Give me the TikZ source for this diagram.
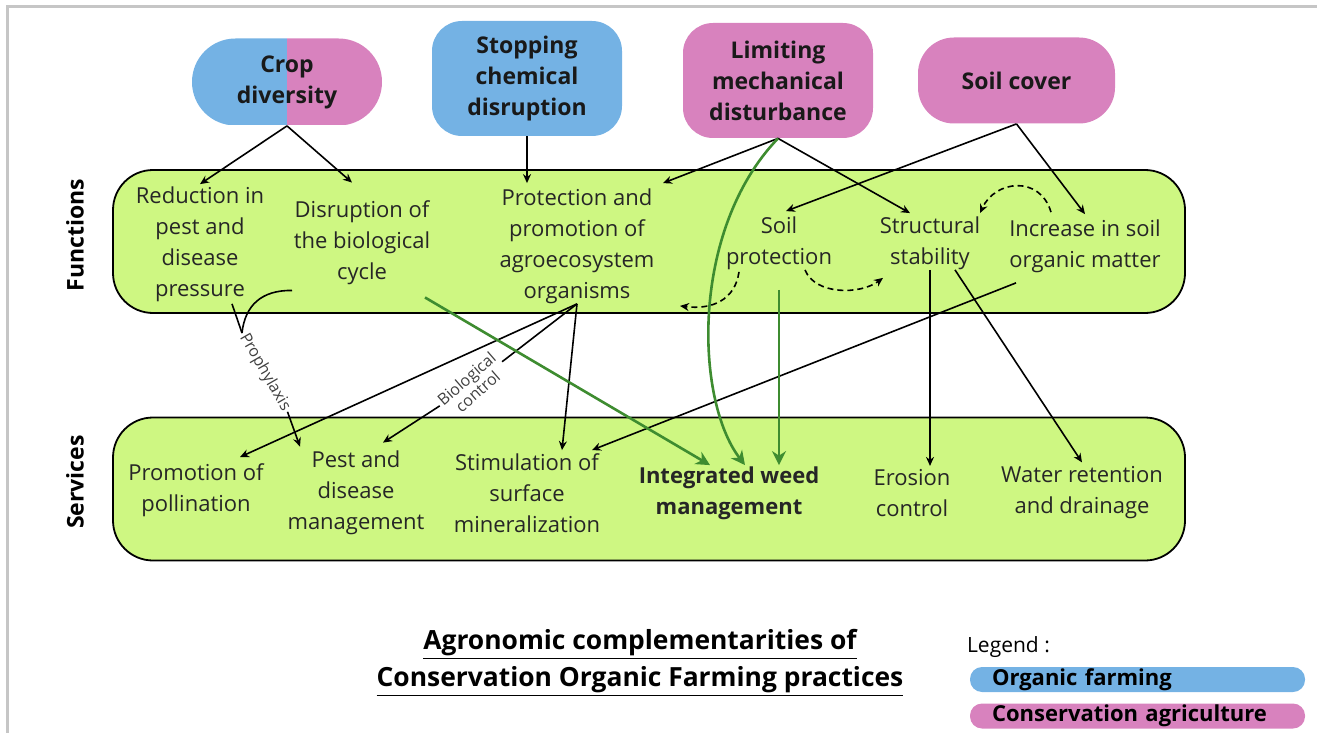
\documentclass[tikz,border=0pt]{standalone}
\usepackage{fontspec}
\setmainfont{Open Sans}
\usetikzlibrary{arrows.meta}
\definecolor{ofblue}{RGB}{116,178,228}
\definecolor{capink}{RGB}{216,130,190}
\definecolor{bandgreen}{RGB}{206,247,130}
\definecolor{weedgreen}{RGB}{62,140,48}

\begin{document}
\begin{tikzpicture}[x=0.5pt,y=-0.5pt,
  practice/.style={align=center,inner sep=0pt,text=black!90,
    font=\fontsize{11.5}{15.5}\selectfont\bfseries},
  band/.style={draw,fill=bandgreen,line width=0.9pt,rounded corners=20pt,
    minimum width=536pt,minimum height=71.5pt},
  fntext/.style={align=center,inner sep=0pt,text=black!85,
    font=\fontsize{11}{15.5}\selectfont},
  sidelab/.style={rotate=90,font=\fontsize{11.5}{14}\selectfont\bfseries},
  edgelab/.style={align=center,inner sep=1pt,text=black!75,
    font=\fontsize{8}{8.5}\selectfont},
  legpill/.style={rounded corners=6pt,minimum height=12.5pt,inner ysep=0pt,
    inner xsep=11pt,text width=145.5pt,align=left,
    font=\fontsize{11}{12}\selectfont\bfseries},
  arr/.style={-{Stealth[length=4.5pt,width=4pt]},line width=0.8pt},
  garr/.style={-{Stealth[length=7pt,width=7pt]},line width=1.3pt,draw=weedgreen},
  dsh/.style={arr,dash pattern=on 3pt off 2pt}]
\useasboundingbox (0,0) rectangle (1317,733);
\draw[gray!45,line width=1.5pt] (7,733) -- (7,7) -- (1317,7);

% practices
\node[practice,minimum width=95pt,minimum height=43.5pt,rounded corners=21.7pt,
  path picture={
    \fill[ofblue,sharp corners] (path picture bounding box.south west) rectangle (path picture bounding box.north);
    \fill[capink,sharp corners] (path picture bounding box.north) rectangle (path picture bounding box.south east);}]
  (crop) at (287,82) {Crop\\diversity};
\node[practice,fill=ofblue,minimum width=95pt,minimum height=57.5pt,rounded corners=15pt]
  (stop) at (527,78.5) {Stopping\\chemical\\disruption};
\node[practice,fill=capink,minimum width=95pt,minimum height=57.5pt,rounded corners=15pt]
  (lim) at (778,80.5) {Limiting\\mechanical\\disturbance};
\node[practice,fill=capink,minimum width=98.5pt,minimum height=43pt,rounded corners=18pt]
  (soil) at (1016.5,80.5) {Soil cover};

% bands
\node[band] (fnband) at (649,241.5) {};
\node[band] (svband) at (649,489) {};
\node[sidelab] (fnlab) at (75,235) {Functions};
\node[sidelab] (svlab) at (75,482) {Services};

% functions
\node[fntext] (red) at (200,244) {Reduction in\\pest and\\disease\\pressure};
\node[fntext] (dis) at (362,243) {Disruption of\\the biological\\cycle};
\node[fntext] (prot) at (577,246) {Protection and\\promotion of\\agroecosystem\\organisms};
\node[fntext] (soilp) at (779,243) {Soil\\protection};
\node[fntext] (struct) at (930,243) {Structural\\stability};
\node[fntext] (incr) at (1085,246) {Increase in soil\\organic matter};

% services
\node[fntext] (poll) at (196,490) {Promotion of\\pollination};
\node[fntext] (pdm) at (356,493) {Pest and\\disease\\management};
\node[fntext] (stim) at (527,493) {Stimulation of\\surface\\mineralization};
\node[fntext,font=\fontsize{11}{15.5}\selectfont\bfseries] (iwm) at (729,493) {Integrated weed\\management};
\node[fntext] (eros) at (912,493) {Erosion\\control};
\node[fntext] (water) at (1082,493) {Water retention\\and drainage};

% practices -> functions
\draw[arr] (crop.south) -- ([yshift=1pt]red.north);
\draw[arr] (crop.south) -- ([xshift=-5pt,yshift=9pt]dis.north);
\draw[arr] (stop.south) -- ([xshift=-25pt,yshift=2.5pt]prot.north);
\draw[arr] (lim.south) -- ([xshift=43pt,yshift=2.5pt]prot.north);
\draw[arr] (lim.south) -- ([xshift=-10pt,yshift=1.5pt]struct.north);
\draw[arr] (soil.south) -- ([xshift=3.5pt,yshift=2.5pt]soilp.north);
\draw[arr] (soil.south) -- ([yshift=2.5pt]incr.north);

% links between functions
\draw[dsh] ([xshift=-17pt,yshift=3.5pt]incr.north) .. controls (1040,175) and (995,180) .. ([xshift=25pt,yshift=1.5pt]struct.north);
\draw[dsh] ([xshift=13pt]soilp.south) .. controls (815,295) and (860,295) .. ([xshift=-23.5pt,yshift=-4pt]struct.south);
\draw[dsh] ([xshift=-20pt,yshift=-1pt]soilp.south) .. controls (735,300) and (712,310) .. ([xshift=51.5pt,yshift=-1pt]prot.south);

% functions -> services
\draw[arr] (struct.south) -- ([xshift=9pt,yshift=1.5pt]eros.north);
\draw[arr] ([xshift=12.5pt]struct.south) -- ([yshift=2pt]water.north);
\draw[arr] ([xshift=-34.5pt,yshift=-5pt]incr.south) -- ([xshift=32.5pt,yshift=1.5pt]stim.north);
\draw[arr] (prot.south) -- ([xshift=22pt,yshift=3pt]poll.north);
\draw[arr] (prot.south) -- ([xshift=17.5pt,yshift=1.5pt]stim.north);
\node[edgelab,rotate=41] (bio) at (472,385) {Biological\\control};
\draw[line width=0.8pt] (prot.south) -- (bio);
\draw[arr] (bio) -- ([xshift=13.5pt,yshift=4pt]pdm.north);
\coordinate (pj) at (242,333);
\draw[line width=0.8pt] ([xshift=16pt,yshift=-1pt]red.south) -- (pj);
\draw[line width=0.8pt] ([xshift=-35pt,yshift=-2.5pt]dis.south) .. controls (262,290) and (245,305) .. (pj);
\node[edgelab,rotate=-60,anchor=west,inner sep=1pt] (pro) at (pj) {Prophylaxis};
\draw[arr] (pro.east) -- ([xshift=-28pt,yshift=2pt]pdm.north);

% weed management
\draw[garr] ([xshift=31.5pt,yshift=-6pt]dis.south) -- ([xshift=-9.5pt,yshift=0.5pt]iwm.north);
\draw[garr] (lim.south) .. controls (690,230) and (695,400) .. ([xshift=8pt,yshift=0.5pt]iwm.north);
\draw[garr] ([yshift=-10pt]soilp.south) -- ([xshift=25pt,yshift=0.5pt]iwm.north);

% title and legend
\node[align=center,font=\fontsize{13.2}{18.5}\selectfont\bfseries] (title) at (640,663)
  {\underline{Agronomic complementarities of}\\\underline{Conservation Organic Farming practices}};
\node[anchor=west,font=\fontsize{10.5}{12}\selectfont] (leg) at (960,647) {Legend :};
\node[legpill,fill=ofblue] (legof) at (1137.5,679.5) {Organic farming};
\node[legpill,fill=capink] (legca) at (1137.5,716) {Conservation agriculture};
\end{tikzpicture}
\end{document}
